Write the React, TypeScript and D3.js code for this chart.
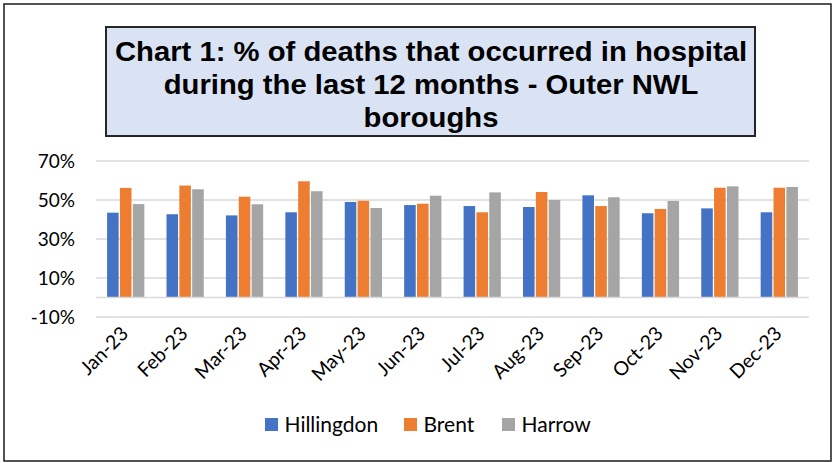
import React, { useEffect, useRef } from "react";
import * as d3 from "d3";

const months = ["Jan-23", "Feb-23", "Mar-23", "Apr-23", "May-23", "Jun-23", "Jul-23", "Aug-23", "Sep-23", "Oct-23", "Nov-23", "Dec-23"];
const boroughs = ["Hillingdon", "Brent", "Harrow"];
const hillingdon = [43.5, 42.7, 42.1, 43.7, 49.0, 47.4, 46.9, 46.4, 52.4, 43.2, 45.7, 43.7];
const brent = [56.2, 57.4, 51.7, 59.6, 49.6, 48.1, 43.7, 54.1, 46.9, 45.4, 56.3, 56.3];
const harrow = [47.9, 55.5, 47.8, 54.5, 45.9, 52.2, 53.9, 50.0, 51.4, 49.5, 57.0, 56.7];
const yTicks = [-10, 10, 30, 50, 70];
const colors = ["#4472c4", "#ed7d31", "#a5a5a5"];
const titleLines = ["Chart 1: % of deaths that occurred in hospital", "during the last 12 months - Outer NWL", "boroughs"];

const W = 838;
const H = 463;

export default function App() {
  const ref = useRef<SVGSVGElement>(null);

  useEffect(() => {
    const svg = d3.select(ref.current);
    svg.selectAll("*").remove();

    const series = [hillingdon, brent, harrow];
    const rows = months.map((m, i) => ({ month: m, values: series.map((s) => s[i]) }));

    // outer frame
    svg.append("rect").attr("x", 4).attr("y", 4).attr("width", 827).attr("height", 457)
      .attr("fill", "#fff").attr("stroke", "#1a1a1a").attr("stroke-width", 1.5);

    // title box
    svg.append("rect").attr("x", 106).attr("y", 27).attr("width", 649).attr("height", 109)
      .attr("fill", "#dae3f3").attr("stroke", "#262626").attr("stroke-width", 2);
    svg.append("g").attr("transform", "translate(431,0) scale(1.084,1)")
      .selectAll("text").data(titleLines).join("text")
      .attr("x", 0).attr("y", (_, i) => 61 + i * 33)
      .attr("text-anchor", "middle")
      .attr("font-family", "'Liberation Sans', Arial, sans-serif")
      .attr("font-weight", "bold").attr("font-size", 27).attr("fill", "#000")
      .text((d) => d);

    const x0 = d3.scaleBand().domain(months).range([96, 809]).paddingInner(0.33).paddingOuter(0.165);
    const x1 = d3.scaleBand().domain(boroughs).range([0, x0.bandwidth()]).padding(0.1);
    const y = d3.scaleLinear().domain([-10, 70]).range([317, 161]);

    // gridlines
    svg.append("g").selectAll("line").data(yTicks).join("line")
      .attr("x1", 96).attr("x2", 809).attr("y1", (d) => y(d)).attr("y2", (d) => y(d))
      .attr("stroke", "#d9d9d9").attr("stroke-width", 1.5);

    svg.append("g").selectAll("text").data(yTicks).join("text")
      .attr("x", 75).attr("y", (d) => y(d)).attr("dy", "0.35em")
      .attr("text-anchor", "end")
      .attr("font-family", "Lato, 'Open Sans', sans-serif").attr("font-size", 19).attr("fill", "#000")
      .text((d) => `${d}%`);

    // bars
    svg.append("g").selectAll("g").data(rows).join("g")
      .attr("transform", (d) => `translate(${x0(d.month)},0)`)
      .selectAll("rect").data((d) => d.values.map((v, k) => ({ key: boroughs[k], v, k })))
      .join("rect")
      .attr("x", (d) => x1(d.key)!)
      .attr("width", x1.bandwidth())
      .attr("y", (d) => y(Math.max(0, d.v)))
      .attr("height", (d) => Math.abs(y(d.v) - y(0)))
      .attr("fill", (d) => colors[d.k]);

    // zero axis line
    svg.append("line").attr("x1", 96).attr("x2", 809).attr("y1", y(0)).attr("y2", y(0))
      .attr("stroke", "#d9d9d9").attr("stroke-width", 1.5);

    // x labels
    svg.append("g").selectAll("text").data(months).join("text")
      .attr("transform", (d) => `translate(${x0(d)! + x0.bandwidth() / 2 - 1},330) rotate(-45)`)
      .attr("dy", "0.35em")
      .attr("text-anchor", "end")
      .attr("font-family", "Lato, 'Open Sans', sans-serif").attr("font-size", 19.5).attr("fill", "#000")
      .text((d) => d);

    // legend
    const legendX = [265, 404, 502];
    const lg = svg.append("g").selectAll("g").data(boroughs).join("g")
      .attr("transform", (_, i) => `translate(${legendX[i]},418)`);
    lg.append("rect").attr("width", 13).attr("height", 13).attr("fill", (_, i) => colors[i]);
    lg.append("text").attr("x", 19.5).attr("y", 6.5).attr("dy", "0.35em")
      .attr("font-family", "Lato, 'Open Sans', sans-serif").attr("font-size", 21).attr("fill", "#000")
      .text((d) => d);
  }, []);

  return (
    <svg ref={ref} width={W} height={H} style={{ position: "absolute", left: 0, top: 0, background: "#fff" }} />
  );
}
